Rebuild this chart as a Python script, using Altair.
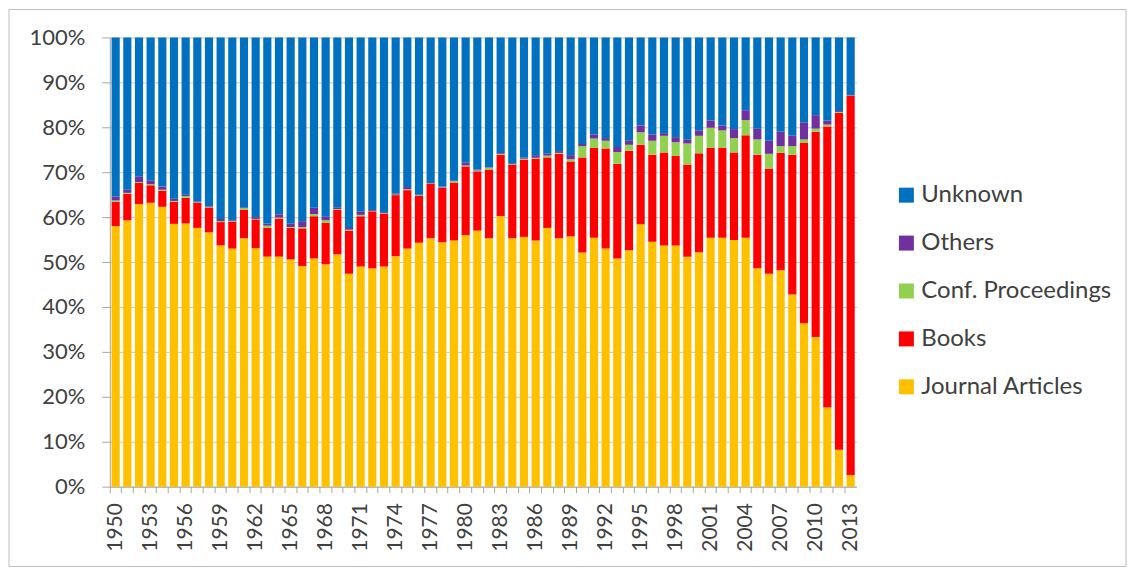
import altair as alt
import pandas as pd

years = list(range(1950, 2014))

journal = [58.0, 59.3, 62.9, 63.2, 62.3, 58.5, 58.6, 57.6, 56.6, 53.7,
           53.0, 55.3, 53.1, 51.2, 51.2, 50.6, 49.1, 50.8, 49.5, 51.7,
           47.4, 49.0, 48.6, 49.0, 51.3, 53.0, 54.3, 55.3, 54.4, 54.8,
           56.0, 57.0, 55.3, 60.2, 55.3, 55.6, 54.8, 57.6, 55.3, 55.7,
           52.1, 55.4, 53.0, 50.8, 52.6, 58.4, 54.5, 53.7, 53.7, 51.2,
           52.2, 55.4, 55.4, 54.9, 55.4, 48.6, 47.4, 48.2, 42.8, 36.4,
           33.3, 17.6, 8.2, 2.6]

books = [5.4, 5.9, 4.7, 3.9, 3.6, 4.9, 5.7, 5.6, 5.5, 5.2,
         6.0, 6.3, 6.4, 6.4, 8.5, 7.0, 8.4, 9.4, 9.2, 9.9,
         9.6, 11.2, 12.7, 11.8, 13.6, 13.0, 10.5, 12.1, 12.1, 12.8,
         15.3, 13.2, 15.3, 13.7, 16.4, 17.2, 18.2, 15.7, 18.8, 16.7,
         21.2, 20.0, 22.3, 21.1, 22.2, 17.7, 19.4, 20.7, 19.9, 20.5,
         22.0, 20.0, 20.0, 19.5, 22.8, 25.3, 23.4, 26.1, 31.1, 40.1,
         45.7, 62.6, 75.0, 84.4]

conf = [0.3, 0.2, 0.2, 0.2, 0.2, 0.2, 0.4, 0.1, 0.1, 0.2,
        0.1, 0.4, 0.1, 0.5, 0.2, 0.2, 0.3, 0.5, 0.6, 0.2,
        0.2, 0.3, 0.1, 0.1, 0.1, 0.2, 0.1, 0.1, 0.1, 0.4,
        0.2, 0.2, 0.4, 0.2, 0.1, 0.2, 0.2, 0.4, 0.2, 0.5,
        2.5, 2.1, 1.7, 2.6, 1.3, 2.8, 3.1, 3.7, 3.1, 4.7,
        3.9, 4.5, 3.9, 3.2, 3.4, 3.4, 3.3, 1.5, 1.9, 0.8,
        0.7, 0.4, 0.2, 0.1]

others = [0.9, 0.7, 1.2, 0.8, 0.7, 0.5, 0.3, 0.1, 0.2, 0.5,
          0.2, 0.1, 0.4, 0.4, 0.7, 0.8, 1.3, 1.4, 0.8, 0.4,
          0.4, 0.7, 0.2, 0.2, 0.2, 0.5, 0.1, 0.1, 0.2, 0.1,
          0.6, 0.2, 0.1, 0.2, 0.1, 0.2, 0.6, 0.4, 0.4, 0.9,
          0.5, 0.9, 0.6, 1.1, 0.9, 1.5, 1.4, 0.6, 1.1, 0.9,
          1.2, 1.6, 1.1, 2.0, 2.2, 2.4, 2.9, 3.2, 2.3, 3.7,
          3.0, 0.9, 0.2, 0.1]

unknown = [35.4, 33.9, 31.0, 31.9, 33.2, 35.9, 35.0, 36.6, 37.6, 40.4,
           40.7, 37.9, 40.0, 41.5, 39.4, 41.4, 40.9, 37.9, 39.9, 37.8,
           42.4, 38.8, 38.4, 38.9, 34.8, 33.3, 35.0, 32.4, 33.2, 31.9,
           27.9, 29.4, 28.9, 25.7, 28.1, 26.8, 26.2, 25.9, 25.3, 26.2,
           23.7, 21.6, 22.4, 24.4, 23.0, 19.6, 21.6, 21.3, 22.2, 22.7,
           20.7, 18.5, 19.6, 20.4, 16.2, 20.3, 23.0, 21.0, 21.9, 19.0,
           17.3, 18.5, 16.4, 12.8]

stack_cats = ["Journal Articles", "Books", "Conf. Proceedings", "Others", "Unknown"]
series = [journal, books, conf, others, unknown]
legend_order = ["Unknown", "Others", "Conf. Proceedings", "Books", "Journal Articles"]
colors = ["#0070C0", "#7030A0", "#92D050", "#FF0000", "#FFC000"]

rows = []
for ci, (c, s) in enumerate(zip(stack_cats, series)):
    for yr, v in zip(years, s):
        rows.append({"year": yr, "cat": c, "value": v, "ord": ci})
df = pd.DataFrame(rows)

FONT = "Lato"
TXT = "#404040"
AXC = "#A6A6A6"

bars = alt.Chart(df).mark_bar(width=alt.RelativeBandSize(0.7)).encode(
    x=alt.X("year:O",
            scale=alt.Scale(paddingInner=0, paddingOuter=0),
            axis=alt.Axis(title=None, labelAngle=270,
                          labelExpr="(datum.value - 1950) % 3 == 0 ? datum.label : ''",
                          bandPosition=0, tickSize=6, tickColor=AXC, domainColor=AXC,
                          labelFont=FONT, labelFontSize=21, labelColor=TXT,
                          labelPadding=10, labelOverlap=False, grid=False)),
    y=alt.Y("value:Q", stack="zero",
            scale=alt.Scale(domain=[0, 100], nice=False),
            axis=alt.Axis(title=None, values=list(range(0, 101, 10)),
                          labelExpr="datum.value + '%'",
                          tickSize=8, tickColor=AXC, domainColor=AXC,
                          gridColor="#C8C8C8", labelFont=FONT, labelFontSize=22,
                          labelColor=TXT, labelPadding=17, minExtent=96, maxExtent=96)),
    color=alt.Color("cat:N",
                    scale=alt.Scale(domain=legend_order, range=colors),
                    legend=alt.Legend(title=None, orient="none", legendX=786, legendY=146,
                                      symbolType="square", symbolSize=225,
                                      symbolStrokeWidth=0, labelFont=FONT,
                                      labelFontSize=24, labelColor=TXT, labelLimit=0,
                                      rowPadding=24, labelOffset=3)),
    order=alt.Order("ord:Q", sort="ascending"),
)

frame = alt.Chart(pd.DataFrame({"k": [0]})).mark_rect(
    filled=False, stroke="#BFBFBF", strokeWidth=1
).encode(x=alt.value(-101), x2=alt.value(1018), y=alt.value(-28), y2=alt.value(530))

chart = alt.layer(frame, bars).properties(
    width=748, height=450, padding=0, background="white"
).configure_view(stroke=None)

chart.save("out.html", embed_options={"renderer": "svg", "actions": False})
